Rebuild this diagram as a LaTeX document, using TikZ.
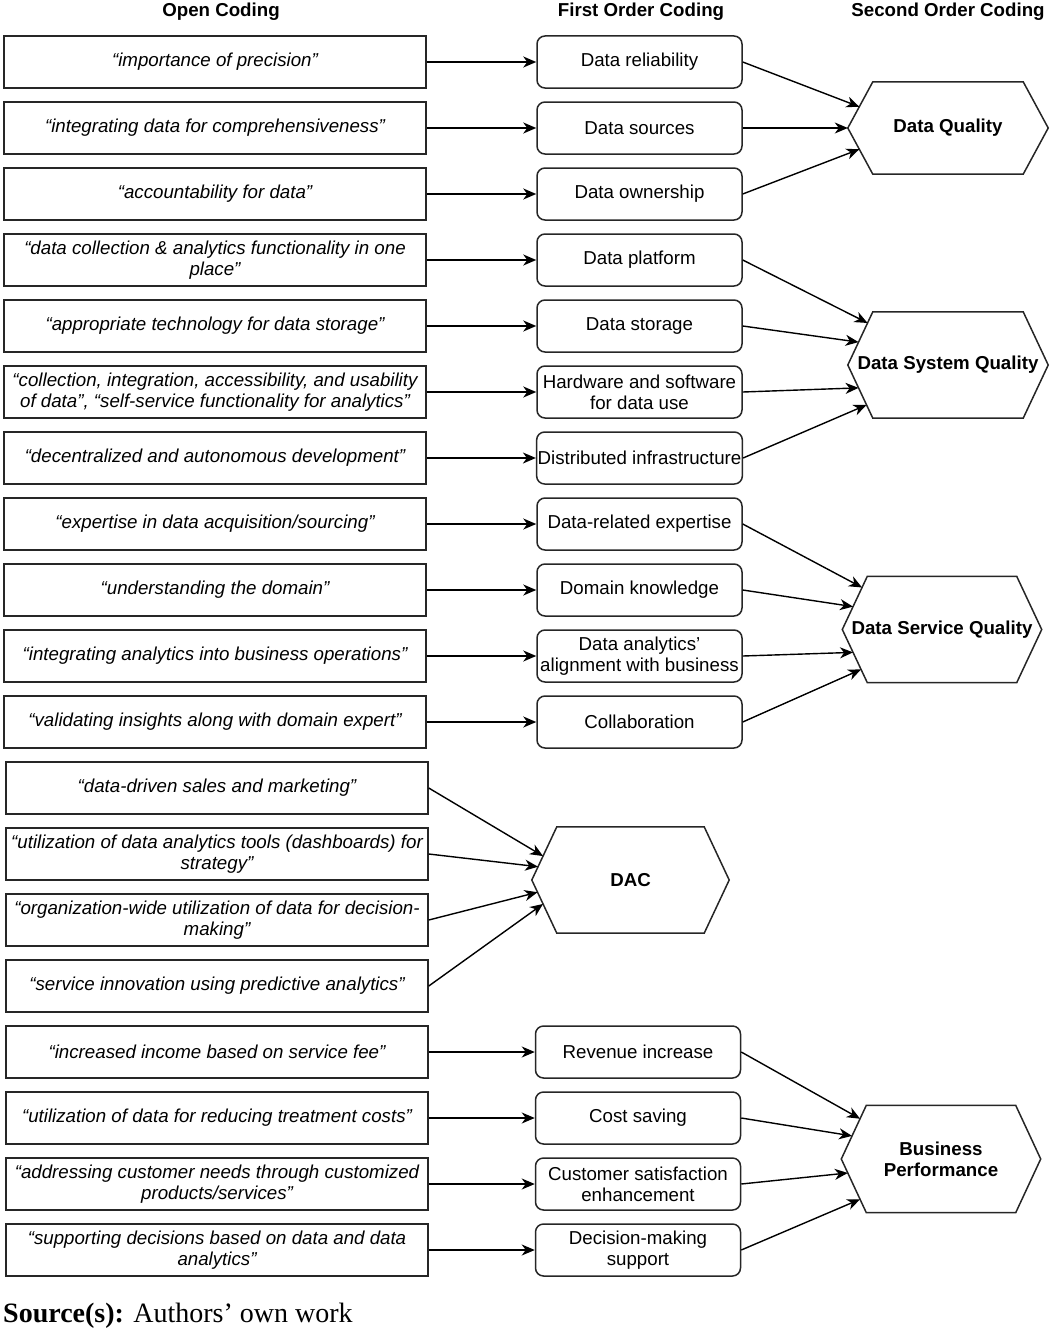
\documentclass[tikz,border=0pt]{standalone}
\usepackage{fontspec}
\setmainfont{Liberation Sans}
\newfontfamily\srcfont{Liberation Serif}
\usetikzlibrary{arrows.meta,calc}
\tikzset{
  quote/.style={draw=black!85, line width=1.5pt, minimum width=422pt, minimum height=52pt, inner sep=1pt, align=center, font=\itshape},
  code/.style={draw=black!85, line width=1.5pt, rounded corners=8pt, minimum width=205pt, minimum height=52pt, inner sep=1pt, align=center},
  theme/.style={minimum width=199pt, minimum height=106pt, inner sep=0pt, align=center, font=\bfseries,
    append after command={\pgfextra{\draw[draw=black!85, line width=1.5pt]
      (\tikzlastnode.west) -- ([xshift=25pt]\tikzlastnode.north west) -- ([xshift=-25pt]\tikzlastnode.north east)
      -- (\tikzlastnode.east) -- ([xshift=-25pt]\tikzlastnode.south east) -- ([xshift=25pt]\tikzlastnode.south west) -- cycle;}}},
  link/.style={line width=1.4pt, -{Stealth[length=13pt,width=11pt,inset=4pt]}},
}
\begin{document}
\fontsize{18.7}{21}\selectfont
\begin{tikzpicture}[x=1pt, y=-1pt]
    \useasboundingbox (0,0) rectangle (1054,1330);
    % column headers
    \node[font=\bfseries] (hopen) at (221,12) {Open Coding};
    \node[font=\bfseries] (hfirst) at (641,12) {First Order Coding};
    \node[font=\bfseries] (hsecond) at (948,12) {Second Order Coding};
    % open coding
    \node[quote] (q1) at (215,62) {“importance of precision”};
    \node[quote] (q2) at (215,128) {“integrating data for comprehensiveness”};
    \node[quote] (q3) at (215,194) {“accountability for data”};
    \node[quote] (q4) at (215,260) {“data collection \& analytics functionality in one\\place”};
    \node[quote] (q5) at (215,326) {“appropriate technology for data storage”};
    \node[quote] (q6) at (215,392) {“collection, integration, accessibility, and usability\\of data”, “self-service functionality for analytics”};
    \node[quote] (q7) at (215,458) {“decentralized and autonomous development”};
    \node[quote] (q8) at (215,524) {“expertise in data acquisition/sourcing”};
    \node[quote] (q9) at (215,590) {“understanding the domain”};
    \node[quote] (q10) at (215,656) {“integrating analytics into business operations”};
    \node[quote] (q11) at (215,722) {“validating insights along with domain expert”};
    \node[quote] (q12) at (217,788) {“data-driven sales and marketing”};
    \node[quote] (q13) at (217,854) {“utilization of data analytics tools (dashboards) for\\strategy”};
    \node[quote] (q14) at (217,920) {“organization-wide utilization of data for decision-\\making”};
    \node[quote] (q15) at (217,986) {“service innovation using predictive analytics”};
    \node[quote] (q16) at (217,1052) {“increased income based on service fee”};
    \node[quote] (q17) at (217,1118) {“utilization of data for reducing treatment costs”};
    \node[quote] (q18) at (217,1184) {“addressing customer needs through customized\\products/services”};
    \node[quote] (q19) at (217,1250) {“supporting decisions based on data and data\\analytics”};
    % first order coding
    \node[code] (c1) at (639.5,62) {Data reliability};
    \node[code] (c2) at (639.5,128) {Data sources};
    \node[code] (c3) at (639.5,194) {Data ownership};
    \node[code] (c4) at (639.5,260) {Data platform};
    \node[code] (c5) at (639.5,326) {Data storage};
    \node[code] (c6) at (639.5,392) {Hardware and software\\for data use};
    \node[code] (c7) at (639.5,458) {Distributed infrastructure};
    \node[code] (c8) at (639.5,524) {Data-related expertise};
    \node[code] (c9) at (639.5,590) {Domain knowledge};
    \node[code] (c10) at (639.5,656) {Data analytics’\\alignment with business};
    \node[code] (c11) at (639.5,722) {Collaboration};
    \node[code] (c16) at (638,1052) {Revenue increase};
    \node[code] (c17) at (638,1118) {Cost saving};
    \node[code] (c18) at (638,1184) {Customer satisfaction\\enhancement};
    \node[code] (c19) at (638,1250) {Decision-making\\support};
    % second order coding
    \node[theme, minimum width=200pt, minimum height=92pt] (dq) at (948,128) {Data Quality};
    \node[theme, minimum width=200pt] (dsys) at (948,365) {Data System Quality};
    \node[theme] (dserv) at (942,629.5) {Data Service Quality};
    \node[theme, minimum width=197pt] (dac) at (630.5,880) {DAC};
    \node[theme, minimum height=107pt] (bp) at (941,1159) {Business\\Performance};
    % open -> first order
    \draw[link] (q1) -- (c1);
    \draw[link] (q2) -- (c2);
    \draw[link] (q3) -- (c3);
    \draw[link] (q4) -- (c4);
    \draw[link] (q5) -- (c5);
    \draw[link] (q6) -- (c6);
    \draw[link] (q7) -- (c7);
    \draw[link] (q8) -- (c8);
    \draw[link] (q9) -- (c9);
    \draw[link] (q10) -- (c10);
    \draw[link] (q11) -- (c11);
    \draw[link] (q16) -- (c16);
    \draw[link] (q17) -- (c17);
    \draw[link] (q18) -- (c18);
    \draw[link] (q19) -- (c19);
    % first order -> second order
    \draw[link] (c1.east) -- ($(dq.west)!0.46!([xshift=25pt]dq.north west)$);
    \draw[link] (c2.east) -- (dq.west);
    \draw[link] (c3.east) -- ($(dq.west)!0.46!([xshift=25pt]dq.south west)$);
    \draw[link] (c4.east) -- ($(dsys.west)!0.79!([xshift=25pt]dsys.north west)$);
    \draw[link] (c5.east) -- ($(dsys.west)!0.43!([xshift=25pt]dsys.north west)$);
    \draw[link] (c6.east) -- ($(dsys.west)!0.43!([xshift=25pt]dsys.south west)$);
    \draw[link] (c7.east) -- ($(dsys.west)!0.75!([xshift=25pt]dsys.south west)$);
    \draw[link] (c8.east) -- ($(dserv.west)!0.79!([xshift=25pt]dserv.north west)$);
    \draw[link] (c9.east) -- ($(dserv.west)!0.43!([xshift=25pt]dserv.north west)$);
    \draw[link] (c10.east) -- ($(dserv.west)!0.43!([xshift=25pt]dserv.south west)$);
    \draw[link] (c11.east) -- ($(dserv.west)!0.75!([xshift=25pt]dserv.south west)$);
    \draw[link] (q12.east) -- ($(dac.west)!0.45!([xshift=25pt]dac.north west)$);
    \draw[link] (q13.east) -- ($(dac.west)!0.25!([xshift=25pt]dac.north west)$);
    \draw[link] (q14.east) -- ($(dac.west)!0.23!([xshift=25pt]dac.south west)$);
    \draw[link] (q15.east) -- ($(dac.west)!0.45!([xshift=25pt]dac.south west)$);
    \draw[link] (c16.east) -- ($(bp.west)!0.75!([xshift=25pt]bp.north west)$);
    \draw[link] (c17.east) -- ($(bp.west)!0.43!([xshift=25pt]bp.north west)$);
    \draw[link] (c18.east) -- ($(bp.west)!0.26!([xshift=25pt]bp.south west)$);
    \draw[link] (c19.east) -- ($(bp.west)!0.75!([xshift=25pt]bp.south west)$);
    % source line
    \node[anchor=base west, inner sep=0pt, font=\srcfont\fontsize{28}{30}\selectfont] (src) at (3,1322) {\textbf{Source(s):} Authors’ own work};
\end{tikzpicture}
\end{document}
